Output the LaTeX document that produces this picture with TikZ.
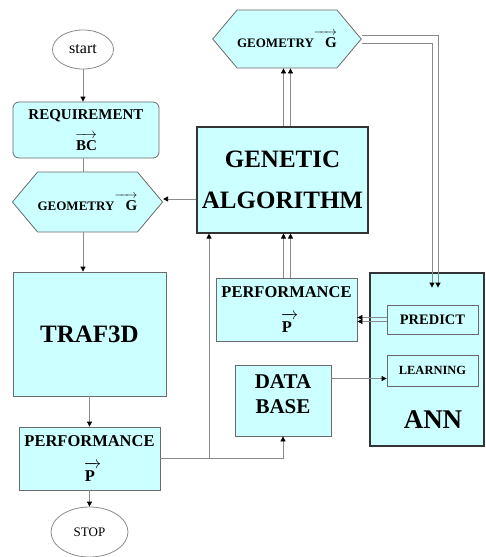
\documentclass[tikz,border=0pt]{standalone}
\usepackage{amsmath}
\usepackage{fontspec}
\setmainfont{Liberation Serif}
\usetikzlibrary{shapes.geometric,shapes.symbols,arrows.meta}

\definecolor{boxfill}{HTML}{CCFFFF}
\definecolor{wire}{HTML}{8A8A8A}
\definecolor{edge}{HTML}{6A6A6A}
\newcommand{\vecto}[2]{\leavevmode\vbox{\offinterlineskip\hbox to #1{\rightarrowfill}\kern2pt\hbox to #1{\hfil #2}}}
\newcommand{\fsz}[1]{\fontsize{#1}{#1}\selectfont}

\tikzset{
  box/.style={draw=edge, fill=boxfill, line width=0.8pt, inner sep=0pt, align=center, font=\bfseries},
  heavybox/.style={box, draw=black!80, line width=1.1pt},
  hexa/.style={box, signal, signal to=west and east, signal pointer angle=100},
  term/.style={draw=wire, ellipse, line width=0.8pt, inner sep=0pt},
  wireline/.style={draw=wire, line width=0.8pt},
  arr/.style={wireline, -{Triangle[length=5pt,width=5pt,black]}}
}

\begin{document}
\begin{tikzpicture}[x=1pt,y=-1pt]
        \useasboundingbox (0,0) rectangle (486,557);
        \def \bigfs {\fsz{25}}
        \def \dx {3.5}

        % left column
        \node[term, minimum width=61pt, minimum height=39pt, font=\fsz{16}] at (83,49.5) (start) {start};
        \node[box, rounded corners=6pt, minimum width=146pt, minimum height=56pt, font=\bfseries\fsz{15}] at (86,130) (req) {REQUIREMENT\\[10pt]\vecto{22pt}{BC}};
        \node[hexa, minimum width=131pt, minimum height=60pt, font=\bfseries\fsz{13}] at (87.5,202) (geo1) {GEOMETRY\vecto{23pt}{\fsz{15}G}};
        \node[box, minimum width=153pt, minimum height=124pt, font=\bfseries\bigfs] at (89.5,334) (traf) {TRAF3D};
        \node[box, minimum width=141pt, minimum height=63pt, font=\bfseries\fsz{16.5}] at (89.5,458.5) (perfl) {PERFORMANCE\\[15pt]\vecto{11pt}{P}};
        \node[term, minimum width=77pt, minimum height=50pt, font=\fsz{13}] at (89.5,532) (stop) {STOP};

        % middle column
        \node[hexa, minimum width=130pt, minimum height=58pt, font=\bfseries\fsz{13}] at (287,39) (geo2) {GEOMETRY\vecto{23pt}{\fsz{15}G}};
        \node[heavybox, minimum width=171pt, minimum height=106pt, font=\bfseries\bigfs] at (282.5,180) (ga) {GENETIC\\[16pt]ALGORITHM};
        \node[box, minimum width=141pt, minimum height=63pt, font=\bfseries\fsz{16.5}] at (286.5,309.5) (perfr) {PERFORMANCE\\[15pt]\vecto{11pt}{P}};
        \node[box, minimum width=96pt, minimum height=71pt, text depth=12pt, font=\bfseries\fsz{21}] at (283,400.5) (db) {DATA\\[4pt]BASE};

        % ANN block
        \node[heavybox, minimum width=114pt, minimum height=173pt] at (427,359.5) (ann) {};
        \node[font=\bfseries\fsz{27}] at (433,420) (annlbl) {ANN};
        \node[box, minimum width=91pt, minimum height=29pt, font=\bfseries\fsz{14.5}] at (432.5,319.5) (prd) {PREDICT};
        \node[box, minimum width=91pt, minimum height=31pt, font=\bfseries\fsz{12.5}] at (432.5,370.5) (lrn) {LEARNING};

        % connectors
        \draw[arr] (start.south) -- (start.south |- req.north);
        \draw[wireline] (start.south |- req.south) -- (start.south |- geo1.north);
        \draw[arr] (start.south |- geo1.south) -- (start.south |- traf.north);
        \draw[arr] (traf.south) -- (perfl.north);
        \draw[arr] (perfl.south) -- (stop.north);
        \draw[arr] ([yshift=3pt]ga.west |- geo1.east) -- ([yshift=3pt]geo1.east);

        \coordinate (jn) at (209,458.5);
        \draw[arr] (perfl.east) -| (db.south);
        \draw[arr] (jn) -- (jn |- ga.south);
        \draw[arr] ([yshift=-8pt]lrn.west -| db.east) -- ([yshift=-8pt]lrn.west);

        \foreach \s in {-1,1}{
          \draw[arr] ([xshift=\s*\dx pt]geo2.south |- perfr.north) -- ([xshift=\s*\dx pt]geo2.south |- ga.south);
          \draw[arr] ([xshift=\s*\dx pt]geo2.south |- ga.north) -- ([xshift=\s*\dx pt]geo2.south);
          \draw[arr] ([yshift=\s*2pt]prd.west) -- ([yshift=\s*2pt]prd.west -| perfr.east);
        }
        \draw[arr] ([yshift=4pt]geo2.east) -| ([xshift=5.5pt,yshift=17pt]prd.north);
        \draw[arr] ([yshift=-4pt]geo2.east) -| ([xshift=-0.5pt,yshift=17pt]prd.north);
\end{tikzpicture}
\end{document}
